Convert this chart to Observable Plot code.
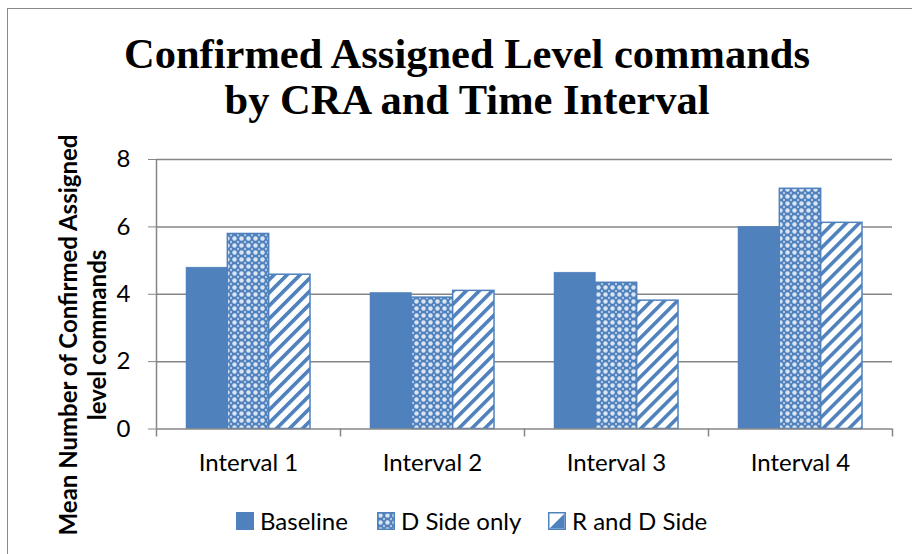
<!DOCTYPE html>
<html>
<head>
<meta charset="utf-8">
<script src="https://cdn.jsdelivr.net/npm/d3@7"></script>
<script src="https://cdn.jsdelivr.net/npm/@observablehq/plot@0.6"></script>
<style>
  html, body { margin: 0; padding: 0; background: #fff; }
  #wrap { position: relative; width: 912px; height: 554px; overflow: hidden; background: #fff; }
  #border { position: absolute; left: 7px; top: 8px; right: -10px; bottom: -10px;
            border-left: 1.5px solid #898989; border-top: 1.5px solid #898989; }
  #title { position: absolute; left: 22px; width: 890px; top: 31px; text-align: center;
           font-family: "Liberation Serif", serif; font-weight: bold; font-size: 42.5px;
           line-height: 46px; color: #000; }
  #ylabel { position: absolute; left: 81.5px; top: 335px; width: 480px;
            transform: translate(-50%, -50%) rotate(-90deg); text-align: center;
            font-family: Lato, sans-serif; font-weight: bold; font-size: 24px; line-height: 29px; color: #000; }
  #chart { position: absolute; left: 0; top: 130px; }
  #chart svg text { fill: #000; }
  .item { position: absolute; top: 506px; display: flex; align-items: center;
          font-family: Lato, sans-serif; font-size: 24px; color: #000; white-space: nowrap; }
  .item svg { margin-right: 6px; }
</style>
</head>
<body>
<svg width="0" height="0" style="position:absolute">
  <defs>
    <pattern id="pD" patternUnits="userSpaceOnUse" width="7" height="7">
      <rect width="7" height="7" fill="#4F81BD"></rect>
      <circle cx="3.5" cy="3.5" r="2.2" fill="#dbe5f2"></circle>
      <circle cx="0" cy="0" r="1.2" fill="#b3c7e4"></circle>
      <circle cx="7" cy="0" r="1.2" fill="#b3c7e4"></circle>
      <circle cx="0" cy="7" r="1.2" fill="#b3c7e4"></circle>
      <circle cx="7" cy="7" r="1.2" fill="#b3c7e4"></circle>
    </pattern>
    <pattern id="pR" patternUnits="userSpaceOnUse" width="9.2" height="9.2" patternTransform="rotate(45)">
      <rect width="9.2" height="9.2" fill="#ffffff"></rect>
      <rect x="0" y="0" width="3.6" height="9.2" fill="#4F81BD"></rect>
    </pattern>
  </defs>
</svg>
<div id="wrap">
  <div id="border"></div>
  <div id="title">Confirmed Assigned Level commands<br>by CRA and Time Interval</div>
  <div id="ylabel">Mean Number of Confirmed Assigned<br>level commands</div>
  <div id="chart"></div>
</div>
<script>
// ---- data ----
const intervals = ["Interval 1", "Interval 2", "Interval 3", "Interval 4"];
const series = ["Baseline", "D Side only", "R and D Side"];
const baseline = [4.79, 4.04, 4.64, 6.00];
const dSideOnly = [5.79, 3.90, 4.34, 7.13];
const rAndDSide = [4.58, 4.10, 3.81, 6.12];
const yTicks = [0, 2, 4, 6, 8];

// ---- styles ----
const blue = "#4F81BD";
const fills = ["#4F81BD", "url(#pD)", "url(#pR)"];
const strokes = ["#4F81BD", "#4F81BD", "#4F81BD"];
const gray = "#868686";

const values = [baseline, dSideOnly, rAndDSide];
const rows = series.map((s, i) => intervals.map((iv, j) => ({series: s, interval: iv, value: values[i][j]})));

const W = 912, H = 360, mL = 156, mR = 20, mT = 29, mB = 61.5;
const step = (W - mL - mR) / intervals.length;
const outer = 30;
const barW = (step - 2 * outer) / series.length;

const barMarks = series.map((s, i) => Plot.barY(rows[i], {
  x: "interval", y: "value",
  fill: fills[i], stroke: strokes[i], strokeWidth: i === 0 ? 0.5 : 1.5,
  insetLeft: outer + i * barW, insetRight: step - outer - (i + 1) * barW
}));

const plot = Plot.plot({
  width: W, height: H,
  marginLeft: mL, marginRight: mR, marginTop: mT, marginBottom: mB,
  style: {fontFamily: "Lato, sans-serif", fontSize: "24px", color: gray, background: "transparent", overflow: "visible"},
  x: {type: "band", domain: intervals, padding: 0, tickSize: 0, tickPadding: 24.5, label: null},
  y: {domain: [0, 8], ticks: yTicks, tickSize: 8, tickPadding: 18, label: null, tickFormat: d => String(d)},
  marks: [
    Plot.ruleY(yTicks.slice(1), {stroke: gray, strokeWidth: 1.5}),
    ...barMarks,
    Plot.ruleY([0], {stroke: gray, strokeWidth: 1.5}),
    Plot.ruleX([intervals[0]], {x: d => d, dx: -step / 2, y1: 0, y2: 8, stroke: gray, strokeWidth: 1.5}),
    Plot.ruleX(intervals, {x: d => d, dx: -step / 2, y1: 0, y2: 0, insetBottom: -8, stroke: gray, strokeWidth: 1.5}),
    Plot.ruleX([intervals[intervals.length - 1]], {x: d => d, dx: step / 2, y1: 0, y2: 0, insetBottom: -8, stroke: gray, strokeWidth: 1.5})
  ]
});
document.getElementById("chart").appendChild(plot);

// ---- legend ----
const wrap = document.getElementById("wrap");
const lefts = [236, 377, 548];
series.forEach((s, i) => {
  const item = document.createElement("div");
  item.className = "item";
  item.style.left = lefts[i] + "px";
  const sw = i === 2
    ? `<svg width="18" height="18"><rect x="0.75" y="0.75" width="16.5" height="16.5" fill="#fff" stroke="${blue}" stroke-width="1.5"/><path d="M1.5,16.5 L16.5,1.5 L16.5,16.5 Z" fill="${blue}"/></svg>`
    : `<svg width="18" height="18"><rect x="0.75" y="0.75" width="16.5" height="16.5" fill="${fills[i]}" stroke="${strokes[i]}" stroke-width="1.5"/></svg>`;
  item.innerHTML = sw + `<span>${s}</span>`;
  wrap.appendChild(item);
});
</script>
</body>
</html>
